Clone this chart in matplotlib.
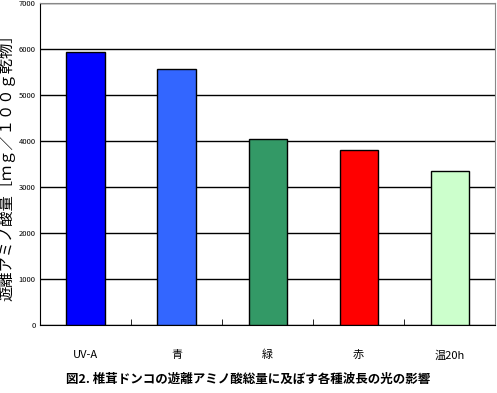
import numpy as np
import matplotlib
matplotlib.use('Agg')
import matplotlib.pyplot as plt

plt.rcParams['font.family'] = ['Noto Sans CJK JP', 'DejaVu Sans']

# data
labels = ['UV-A', '青', '緑', '赤', '温20h']
values = [5930, 5570, 4040, 3800, 3340]
colors = ['#0000FF', '#3366FF', '#339966', '#FF0000', '#CCFFCC']

fig = plt.figure(figsize=(4.97, 3.93), dpi=100)
ax = fig.add_axes([0.0805, 0.173, 0.916, 0.819])

x = np.arange(len(labels))
ax.set_axisbelow(True)
ax.yaxis.grid(True, color='black', linewidth=1)
ax.bar(x, values, width=0.42, color=colors, edgecolor='black', linewidth=1, zorder=3)

ax.set_xlim(-0.5, len(labels) - 0.5)
ax.set_ylim(0, 7000)
ax.set_yticks(range(0, 7001, 1000))
ax.set_xticks(x)
ax.set_xticklabels(labels, fontsize=8)
ax.set_xticks(np.arange(-0.5, len(labels), 1), minor=True)
ax.tick_params(axis='x', which='major', length=0, pad=18)
ax.tick_params(axis='x', which='minor', direction='in', length=4)
ax.tick_params(axis='y', labelsize=5.5, length=0, pad=3)

for s in ['top', 'right']:
    ax.spines[s].set_color('#888888')

ax.set_ylabel('遊離アミノ酸量［ｍｇ／１００ｇ乾物］', fontsize=11, labelpad=2)
fig.text(0.5, 0.025, '図2. 椎茸ドンコの遊離アミノ酸総量に及ぼす各種波長の光の影響',
         ha='center', fontsize=9, fontweight='bold')

fig.savefig('out.png', dpi=100)
